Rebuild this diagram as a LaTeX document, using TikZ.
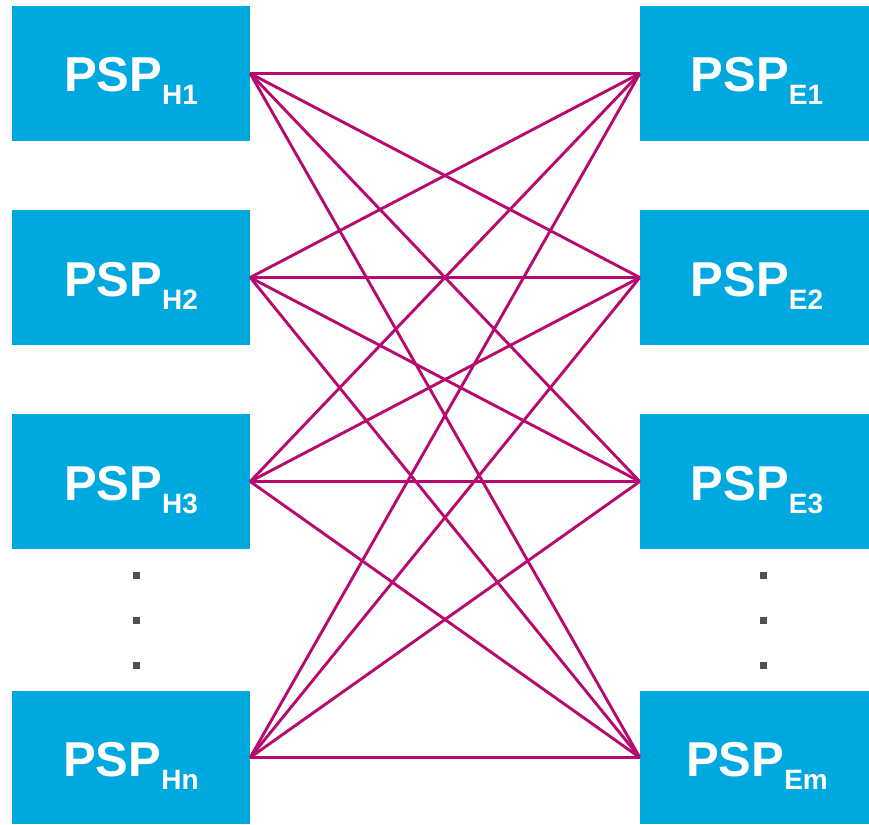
\documentclass[tikz,border=0pt]{standalone}
\usepackage{fontspec}
\setmainfont{Liberation Sans}
\definecolor{boxblue}{RGB}{0,168,224}
\definecolor{linkmag}{RGB}{182,10,110}
\definecolor{dotgray}{RGB}{80,80,80}
\begin{document}
\begin{tikzpicture}[x=1pt,y=-1pt,
  pspbox/.style={fill=boxblue,draw=none,inner sep=0pt,text=white,text height=37pt,text depth=0pt,font=\fontsize{49}{52}\selectfont\bfseries},
  link/.style={draw=linkmag,line width=2.9pt},
  dotsq/.style={fill=dotgray,draw=none,minimum size=7pt,inner sep=0pt}]
\useasboundingbox (0,0) rectangle (869,824);
\newcommand{\psplabel}[1]{PSP\raisebox{-13pt}{\fontsize{28}{30}\selectfont\bfseries #1}}
% left boxes
\node[pspbox,minimum width=238pt,minimum height=135pt] (h1) at (131,73.5) {\psplabel{H1}};
\node[pspbox,minimum width=238pt,minimum height=135pt] (h2) at (131,277.5) {\psplabel{H2}};
\node[pspbox,minimum width=238pt,minimum height=135pt] (h3) at (131,481.5) {\psplabel{H3}};
\node[pspbox,minimum width=238pt,minimum height=133pt] (hn) at (131,757.5) {\psplabel{Hn}};
% right boxes
\node[pspbox,minimum width=229pt,minimum height=135pt] (e1) at (754.5,73.5) {\hspace{5pt}\psplabel{E1}};
\node[pspbox,minimum width=229pt,minimum height=135pt] (e2) at (754.5,277.5) {\hspace{5pt}\psplabel{E2}};
\node[pspbox,minimum width=229pt,minimum height=135pt] (e3) at (754.5,481.5) {\hspace{5pt}\psplabel{E3}};
\node[pspbox,minimum width=229pt,minimum height=133pt] (em) at (754.5,757.5) {\hspace{5pt}\psplabel{Em}};
% dots
\node[dotsq] (dl1) at (136,575) {};
\node[dotsq] (dl2) at (136,620) {};
\node[dotsq] (dl3) at (136,665) {};
\node[dotsq] (dr1) at (763,575) {};
\node[dotsq] (dr2) at (763,620) {};
\node[dotsq] (dr3) at (763,665) {};
% links
\foreach \a in {h1,h2,h3,hn}{
  \foreach \b in {e1,e2,e3,em}{
    \draw[link] (\a.east) -- (\b.west);
  }
}
\end{tikzpicture}
\end{document}
